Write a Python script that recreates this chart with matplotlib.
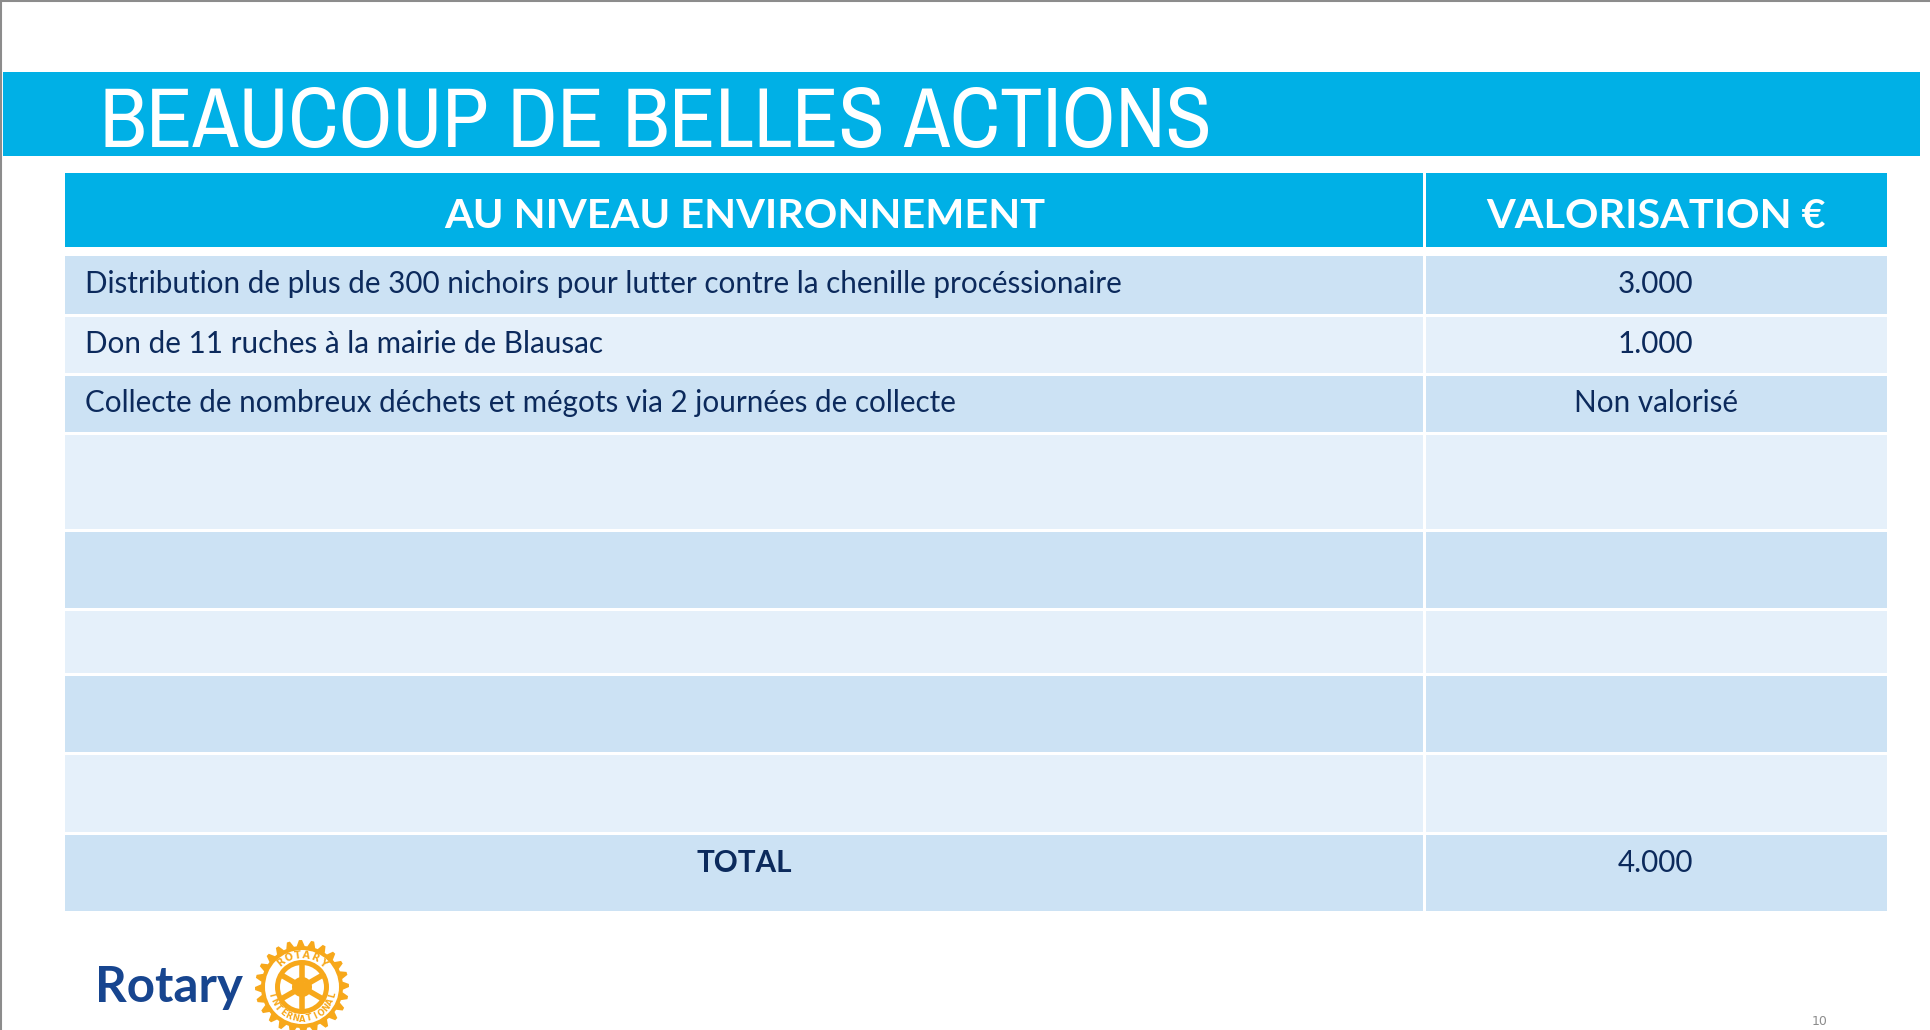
import numpy as np
import matplotlib
matplotlib.use("Agg")
import matplotlib.pyplot as plt
from matplotlib.patches import Rectangle, Circle, Polygon
from matplotlib import font_manager

# --- data ---
TITLE = "BEAUCOUP DE BELLES ACTIONS"
HEADERS = ["AU NIVEAU ENVIRONNEMENT", "VALORISATION €"]
ACTIONS = [
    "Distribution de plus de 300 nichoirs pour lutter contre la chenille procéssionaire",
    "Don de 11 ruches à la mairie de Blausac",
    "Collecte de nombreux déchets et mégots via 2 journées de collecte",
    "", "", "", "", "",
]
VALUES = ["3.000", "1.000", "Non valorisé", "", "", "", "", ""]
TOTAL_LABEL = "TOTAL"
TOTAL_VALUE = "4.000"
PAGE = "10"

# --- layout (pixels of a 1930x1030 slide) ---
W, H = 1930, 1030
X0, XSPLIT, X1 = 65, 1424, 1887
HEADER_ROW = (173, 247)
BODY_ROWS = [(256, 314), (317, 373), (376, 432), (435, 529),
             (532, 608), (611, 673), (676, 752), (755, 832)]
TOTAL_ROW = (835, 911)

CYAN = "#00b0e6"
DARK_ROW = "#cce2f4"
LIGHT_ROW = "#e5f0fa"
NAVY = "#0c2a5c"
ROTARY_BLUE = "#17458f"
GOLD = "#f7a81b"

fonts = font_manager.fontManager.ttflist
names = {f.name for f in fonts}


def is_upright_regular(f):
    low = f.fname.lower()
    return (f.style == "normal" and f.weight in (400, "normal", "regular")
            and "italic" not in low and "oblique" not in low
            and "bold" not in low and "light" not in low and "thin" not in low
            and "medium" not in low and "black" not in low)


# a narrow upright face for the title if one is installed
title_prop = None
for key in ("Liberation Sans Narrow", "Narrow", "Condensed"):
    for f in fonts:
        if key in f.name and is_upright_regular(f):
            title_prop = font_manager.FontProperties(fname=f.fname)
            break
    if title_prop is not None:
        break
narrow = title_prop is not None
if title_prop is None:
    title_prop = font_manager.FontProperties(family="Roboto" if "Roboto" in names else "DejaVu Sans")

body_font = "Lato" if "Lato" in names else "DejaVu Sans"

fig = plt.figure(figsize=(W / 100, H / 100), dpi=100)
ax = fig.add_axes([0, 0, 1, 1])
ax.set_xlim(0, W)
ax.set_ylim(H, 0)
ax.axis("off")
renderer = fig.canvas.get_renderer()


def fit_width(t, target):
    w = t.get_window_extent(renderer).width
    t.set_fontsize(t.get_fontsize() * target / w)


# slide border
ax.plot([0, W], [1, 1], color="#8c8c8c", lw=1.5)
ax.plot([1, 1], [0, H], color="#8c8c8c", lw=1.5)

# title band
ax.add_patch(Rectangle((3, 72), 1917, 84, color=CYAN, lw=0))
t = ax.text(100, 147, TITLE, color="white", fontproperties=title_prop,
            ha="left", va="baseline")
t.set_fontsize(60)
fit_width(t, 1113 if narrow else 1250)

# header row
gap = 1.5
hy0, hy1 = HEADER_ROW
ax.add_patch(Rectangle((X0, hy0), XSPLIT - X0 - gap, hy1 - hy0, color=CYAN, lw=0))
ax.add_patch(Rectangle((XSPLIT + gap, hy0), X1 - XSPLIT - gap, hy1 - hy0, color=CYAN, lw=0))
c1 = (X0 + XSPLIT) / 2
c2 = (XSPLIT + X1) / 2
h1 = ax.text(c1, 228, HEADERS[0], color="white", fontsize=30, family=body_font,
             weight="bold", ha="center", va="baseline")
fit_width(h1, 599)
h2 = ax.text(c2, 228, HEADERS[1], color="white", fontsize=h1.get_fontsize(),
             family=body_font, weight="bold", ha="center", va="baseline")

# body rows
probe = ax.text(85, 0, ACTIONS[0], fontsize=18, family=body_font)
fit_width(probe, 1033)
body_size = probe.get_fontsize()
probe.remove()

for i, (r0, r1) in enumerate(BODY_ROWS):
    col = DARK_ROW if i % 2 == 0 else LIGHT_ROW
    ax.add_patch(Rectangle((X0, r0), XSPLIT - X0 - gap, r1 - r0, color=col, lw=0))
    ax.add_patch(Rectangle((XSPLIT + gap, r0), X1 - XSPLIT - gap, r1 - r0, color=col, lw=0))
    base = (r0 + r1) / 2 + 8
    ax.text(85, base, ACTIONS[i], color=NAVY, fontsize=body_size, family=body_font,
            ha="left", va="baseline")
    ax.text(c2, base, VALUES[i], color=NAVY, fontsize=body_size, family=body_font,
            ha="center", va="baseline")

# total row
ty0, ty1 = TOTAL_ROW
ax.add_patch(Rectangle((X0, ty0), XSPLIT - X0 - gap, ty1 - ty0, color=DARK_ROW, lw=0))
ax.add_patch(Rectangle((XSPLIT + gap, ty0), X1 - XSPLIT - gap, ty1 - ty0, color=DARK_ROW, lw=0))
ax.text(c1, 872, TOTAL_LABEL, color=NAVY, fontsize=body_size, family=body_font,
        weight="bold", ha="center", va="baseline")
ax.text(c2, 872, TOTAL_VALUE, color=NAVY, fontsize=body_size, family=body_font,
        ha="center", va="baseline")

# Rotary logo
rt = ax.text(95, 1002, "Rotary", color=ROTARY_BLUE, fontsize=38, family=body_font,
             weight="bold", ha="left", va="baseline")
fit_width(rt, 148)

cx, cy = 302, 987
n_teeth = 24
ang = np.linspace(0, 2 * np.pi, n_teeth * 4, endpoint=False)
rad = np.tile([47, 47, 41, 41], n_teeth)
gear = np.column_stack([cx + rad * np.cos(ang), cy - rad * np.sin(ang)])
ax.add_patch(Polygon(gear, closed=True, color=GOLD, lw=0))
ax.add_patch(Circle((cx, cy), 37, color="white", lw=0))
ax.add_patch(Circle((cx, cy), 27, color=GOLD, lw=0))
ax.add_patch(Circle((cx, cy), 22, color="white", lw=0))
for a in np.deg2rad([90, 150, 210, 270, 330, 30]):
    ax.plot([cx, cx + 23 * np.cos(a)], [cy, cy - 23 * np.sin(a)],
            color=GOLD, lw=4, solid_capstyle="butt")
ax.add_patch(Circle((cx, cy), 10, color=GOLD, lw=0))
ax.add_patch(Circle((cx, cy), 5, color="white", lw=0))

for k, ch in enumerate("ROTARY"):
    a = 90 + (2.5 - k) * 16
    ar = np.deg2rad(a)
    ax.text(cx + 32 * np.cos(ar), cy - 32 * np.sin(ar), ch, color=GOLD, fontsize=7,
            family="DejaVu Sans", weight="bold", rotation=a - 90,
            ha="center", va="center", rotation_mode="anchor")
for k, ch in enumerate("INTERNATIONAL"):
    a = 270 + (k - 6) * 12.5
    ar = np.deg2rad(a)
    ax.text(cx + 32 * np.cos(ar), cy - 32 * np.sin(ar), ch, color=GOLD, fontsize=6,
            family="DejaVu Sans", weight="bold", rotation=a + 90,
            ha="center", va="center", rotation_mode="anchor")

# page number at the bottom right corner
ax.text(1812, 1028, PAGE, color="#8c8c8c", fontsize=9, ha="left", va="bottom")

fig.savefig("out.png", dpi=100, facecolor="white")
